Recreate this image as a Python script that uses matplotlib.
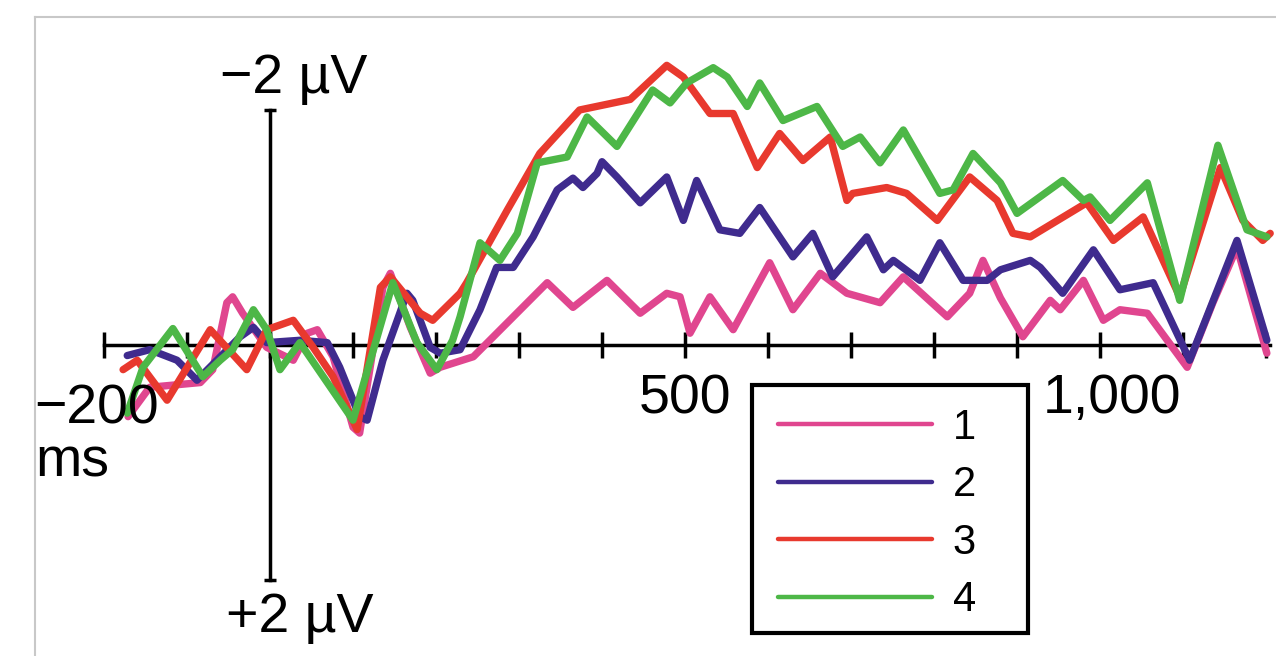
import numpy as np
import matplotlib.pyplot as plt
from matplotlib.patches import Rectangle

plt.rcParams['font.family'] = ['Liberation Sans', 'DejaVu Sans']

# ERP waveforms: time (ms) and amplitude (uV, negative up)
t_1 = [-171, -145, -84, -69, -52, -45, -33, -4, 28, 45, 57, 76, 100, 108, 136, 145,
       169, 193, 205, 245, 286, 334, 365, 406, 446, 478, 494, 506, 530, 558, 602,
       630, 663, 695, 735, 763, 816, 843, 859, 880, 907, 940, 952, 980, 1004, 1024,
       1057, 1105, 1136, 1165, 1201]
v_1 = [0.61, 0.36, 0.32, 0.21, -0.36, -0.41, -0.27, 0.02, 0.13, -0.10, -0.13, 0.10,
       0.70, 0.75, -0.49, -0.61, -0.15, 0.24, 0.19, 0.10, -0.19, -0.53, -0.32, -0.55,
       -0.27, -0.44, -0.41, -0.10, -0.41, -0.13, -0.70, -0.30, -0.61, -0.44, -0.36,
       -0.58, -0.24, -0.44, -0.72, -0.40, -0.07, -0.38, -0.30, -0.55, -0.21, -0.30,
       -0.27, 0.19, -0.36, -0.83, 0.07]

t_2 = [-172, -145, -112, -88, -64, -36, -20, -4, 36, 69, 84, 108, 117, 136, 165, 172,
       193, 205, 229, 253, 273, 293, 317, 346, 365, 377, 394, 400, 418, 446, 478,
       498, 514, 542, 566, 590, 630, 654, 678, 719, 739, 751, 783, 807, 835, 864,
       880, 916, 928, 955, 992, 1024, 1064, 1108, 1165, 1201]
v_2 = [0.09, 0.04, 0.13, 0.30, 0.13, -0.07, -0.15, -0.02, -0.04, -0.02, 0.19, 0.61,
       0.64, 0.13, -0.44, -0.38, 0.02, 0.07, 0.04, -0.30, -0.66, -0.66, -0.92, -1.32,
       -1.42, -1.34, -1.46, -1.56, -1.43, -1.21, -1.43, -1.06, -1.40, -0.98, -0.95,
       -1.17, -0.75, -0.95, -0.58, -0.92, -0.64, -0.72, -0.55, -0.87, -0.55, -0.55,
       -0.64, -0.72, -0.66, -0.44, -0.81, -0.47, -0.53, 0.13, -0.89, -0.04]

t_3 = [-177, -160, -124, -72, -28, -4, 28, 52, 76, 105, 133, 145, 181, 196, 229, 237,
       286, 325, 373, 434, 478, 498, 530, 558, 587, 614, 642, 675, 695, 702, 743,
       767, 804, 843, 876, 895, 916, 984, 1016, 1052, 1096, 1145, 1172, 1196, 1205]
v_3 = [0.21, 0.13, 0.47, -0.13, 0.21, -0.13, -0.21, 0.02, 0.27, 0.72, -0.49, -0.58,
       -0.27, -0.21, -0.44, -0.53, -1.15, -1.63, -2.00, -2.09, -2.38, -2.28, -1.97,
       -1.97, -1.51, -1.80, -1.57, -1.77, -1.23, -1.29, -1.34, -1.29, -1.06, -1.43,
       -1.23, -0.95, -0.92, -1.21, -0.89, -1.09, -0.41, -1.51, -1.06, -0.89, -0.95]

t_4 = [-172, -153, -117, -81, -60, -45, -20, -4, 12, 36, 69, 100, 148, 177, 201, 220,
       229, 253, 277, 298, 322, 358, 382, 418, 461, 482, 502, 534, 551, 575, 590,
       618, 659, 690, 711, 735, 763, 807, 823, 847, 880, 900, 955, 980, 988, 1012,
       1057, 1096, 1142, 1177, 1201]
v_4 = [0.58, 0.19, -0.14, 0.27, 0.13, 0.04, -0.30, -0.13, 0.21, -0.02, 0.32, 0.64,
       -0.53, -0.02, 0.21, -0.04, -0.24, -0.87, -0.72, -0.95, -1.55, -1.60, -1.94,
       -1.69, -2.17, -2.06, -2.23, -2.36, -2.28, -2.03, -2.23, -1.91, -2.03, -1.69,
       -1.77, -1.55, -1.83, -1.29, -1.32, -1.63, -1.38, -1.12, -1.40, -1.23, -1.26,
       -1.06, -1.38, -0.38, -1.70, -0.98, -0.92]

labels = ['1', '2', '3', '4']
colors = ['#E0468F', '#3F2B8E', '#E8392E', '#4DB747']
x_ticks = np.arange(-200, 1201, 100)

W, H = 1276, 656
fig = plt.figure(figsize=(W / 100, H / 100), dpi=100)
ax = fig.add_axes([0, 0, 1, 1])
ax.set_xlim(-325.3, 1212)
ax.set_ylim(2.647, -2.936)
ax.axis('off')

# light frame at top / left
fig.add_artist(plt.Line2D([35 / W, 1], [1 - 17 / H, 1 - 17 / H], color='#c8c8c8', lw=1.5))
fig.add_artist(plt.Line2D([35 / W, 35 / W], [0, 1 - 17 / H], color='#c8c8c8', lw=1.5))

# axes
ax.plot([-200, 1205], [0, 0], color='black', lw=2.5, zorder=1)
ax.vlines(x_ticks, -0.11, 0.11, color='black', lw=2.5, zorder=1)
ax.plot([0, 0], [-2, 2], color='black', lw=2.5, zorder=1)
ax.hlines([-2, 2], -7, 7, color='black', lw=2.5, zorder=1)

series = [(t_1, v_1), (t_2, v_2), (t_3, v_3), (t_4, v_4)]
for (t, v), lab, col in zip(series, labels, colors):
    ax.plot(t, v, color=col, lw=5.3, label=lab, solid_joinstyle='round',
            solid_capstyle='round', zorder=2)

fs = 40
ax.text(28, -2.26, '\u22122 \u00b5V', fontsize=fs, ha='center', va='center')
ax.text(36, 2.32, '+2 \u00b5V', fontsize=fs, ha='center', va='center')
ax.text(-284, 0.55, '\u2212200', fontsize=fs, ha='left', va='center')
ax.text(-283, 1.0, 'ms', fontsize=fs, ha='left', va='center')
ax.text(500, 0.46, '500', fontsize=fs, ha='center', va='center')
ax.text(1014, 0.46, '1,000', fontsize=fs, ha='center', va='center')

# legend box drawn separately so the padding can be uneven like the original
ax.add_patch(Rectangle((752 / W, 1 - 633 / H), 276 / W, 248 / H,
                       transform=fig.transFigure, facecolor='white',
                       edgecolor='black', lw=3, zorder=5, clip_on=False))
leg = ax.legend(loc='upper left', bbox_to_anchor=(752 / W, 1 - 382 / H),
                bbox_transform=fig.transFigure, fontsize=30, frameon=False,
                handlelength=3.7, handletextpad=0.5,
                labelspacing=0.42, borderpad=0.62, borderaxespad=0)
leg.set_zorder(6)
for line in leg.get_lines():
    line.set_linewidth(3.2)

fig.savefig('out.png', dpi=100)
